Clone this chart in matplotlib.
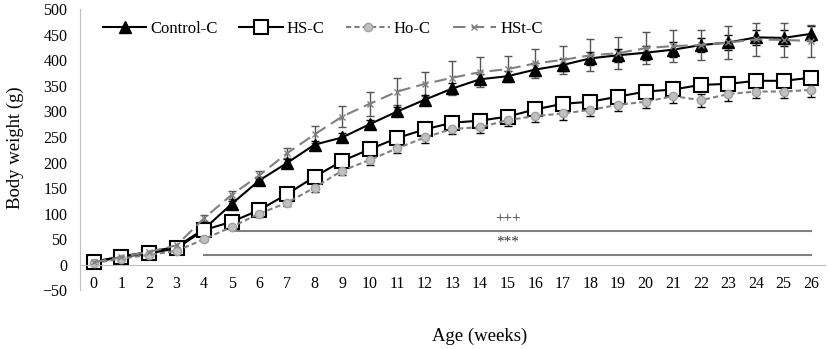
import numpy as np
import matplotlib
matplotlib.use("Agg")
import matplotlib.pyplot as plt

plt.rcParams['font.family'] = ['Liberation Serif', 'DejaVu Serif']

# weeks of age
weeks = list(range(27))

# mean body weight (g) per group
control = [6, 16, 25, 35, 70, 119, 165, 199, 235, 249, 275, 300, 323, 345, 363, 369, 382, 391, 404, 410,
           415, 421, 430, 435, 445, 444, 452]
hs = [5, 15, 22, 32, 68, 84, 107, 138, 172, 203, 226, 248, 265, 278, 282, 290, 304, 315, 319, 329,
      339, 343, 352, 354, 360, 360, 366]
ho = [3, 12, 19, 27, 50, 74, 100, 121, 151, 184, 205, 228, 249, 266, 269, 283, 291, 296, 303, 313,
      319, 330, 322, 334, 339, 339, 342]
hst = [5, 15, 25, 38, 91, 137, 175, 218, 255, 290, 315, 339, 354, 366, 377, 383, 394, 401, 410, 414,
       424, 428, 430, 435, 441, 440, 438]

# standard errors
control_err = [1, 2, 3, 3, 5, 6, 7, 8, 8, 8, 9, 9, 10, 10, 10, 10, 12, 12, 13, 13, 14, 14, 14, 15, 15, 15, 15]
hs_err = [1, 2, 3, 3, 4, 5, 6, 6, 7, 8, 8, 9, 9, 10, 10, 10, 10, 11, 11, 11, 12, 12, 12, 12, 12, 12, 12]
ho_err = [1, 2, 2, 3, 4, 5, 6, 7, 8, 9, 10, 10, 11, 11, 11, 12, 12, 12, 12, 13, 13, 13, 13, 13, 13, 13, 13]
hst_err = [1, 2, 3, 4, 6, 8, 8, 10, 16, 20, 23, 26, 24, 33, 29, 26, 28, 27, 31, 31, 31, 31, 30, 33, 33, 33, 32]

# significance bars: (start week, end week, y, label)
sig_bars = [(5, 26, 65, '+++'), (4, 26, 18, '***')]

fig = plt.figure(figsize=(8.29, 3.49), dpi=100)
ax = fig.add_axes([80 / 829, 1 - 290.2 / 349, 745 / 829, (290.2 - 9.3) / 349])

gray = '#808080'
c1 = ax.errorbar(weeks, control, yerr=control_err, color='black', lw=1.5, marker='^', ms=8,
                 mfc='black', mec='black', ecolor='black', elinewidth=1, capsize=3, label='Control-C')
c2 = ax.errorbar(weeks, hs, yerr=hs_err, color='black', lw=1.5, marker='s', ms=10,
                 mfc='white', mec='black', mew=1.5, ecolor='black', elinewidth=1, capsize=3, label='HS-C')
c3 = ax.errorbar(weeks, ho, yerr=ho_err, color=gray, lw=1.5, ls=(0, (2.5, 1.5)), marker='o', ms=6,
                 mfc='#c0c0c0', mec='#a0a0a0', ecolor='black', elinewidth=1, capsize=3, label='Ho-C')
c4 = ax.errorbar(weeks, hst, yerr=hst_err, color=gray, lw=1.5, ls=(0, (6, 3)), marker='x', ms=5,
                 mec=gray, ecolor='#555555', elinewidth=1, capsize=3, label='HSt-C')

for x0, x1, y, lab in sig_bars:
    ax.plot([x0, x1], [y, y], color=gray, lw=1.5)
    ax.text(15, y + 26, lab, ha='center', va='center', fontsize=11, color='#333333')

ax.set_xlim(-0.5, 26.5)
ax.set_ylim(-50, 500)
ax.set_yticks(range(-50, 501, 50))
ax.set_xticks(weeks)
ax.tick_params(axis='both', length=0, labelsize=11.5)
ax.tick_params(axis='x', pad=8)
ax.tick_params(axis='y', pad=9)

for s in ['top', 'right']:
    ax.spines[s].set_visible(False)
ax.spines['left'].set_color('#bfbfbf')
ax.spines['bottom'].set_color('#bfbfbf')
ax.spines['bottom'].set_position(('data', 0))

fig.text(15 / 829, 1 - 148 / 349, 'Body weight (g)', rotation=90, ha='center', va='center', fontsize=13.5)
fig.text(480 / 829, 1 - 336 / 349, 'Age (weeks)', ha='center', va='center', fontsize=13.5)

handles = [c[0] for c in (c1, c2, c3, c4)]
labels = ['Control-C', 'HS-C', 'Ho-C', 'HSt-C']
ax.legend(handles, labels, loc='upper left', bbox_to_anchor=(0.015, 1.0), ncol=4, frameon=False,
          fontsize=12, handlelength=2.6, handletextpad=0.25, columnspacing=1.3, borderaxespad=0.3)

fig.savefig('out.png', dpi=100)
